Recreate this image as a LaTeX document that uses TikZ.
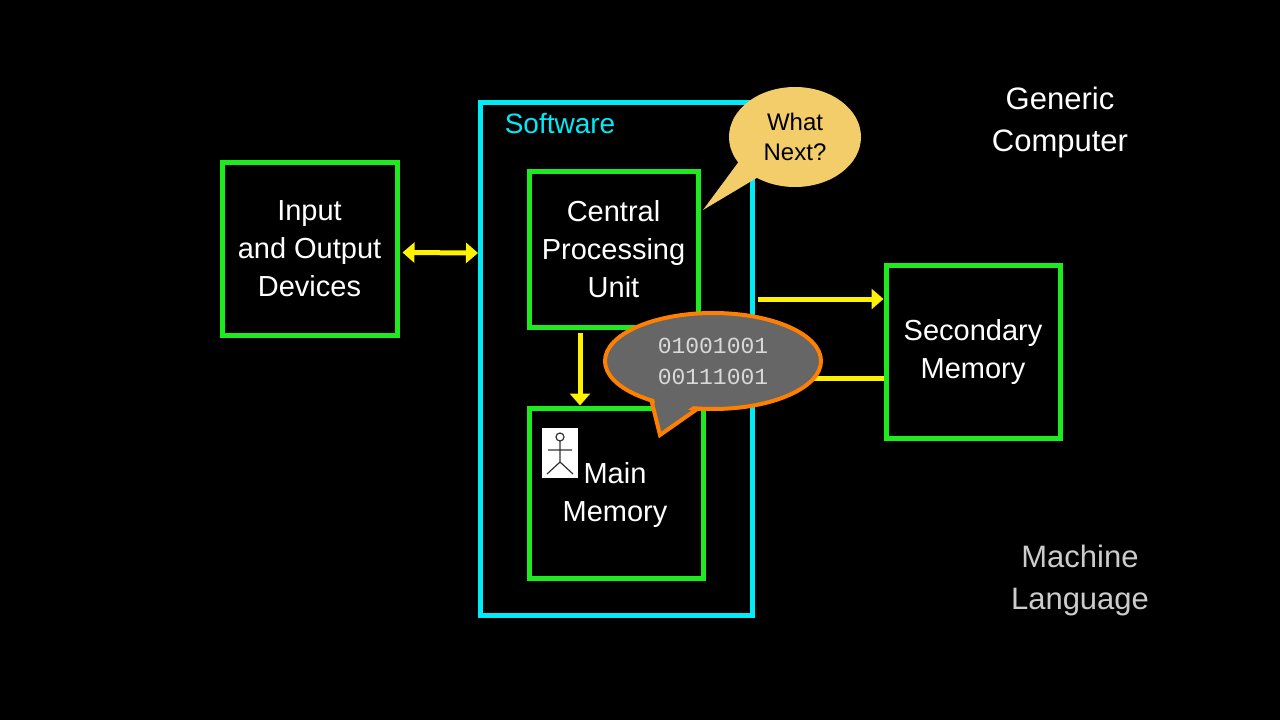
\documentclass[tikz,border=0pt]{standalone}
\usepackage{fontspec}
\setmainfont{Liberation Sans}
\newfontfamily\binfont{Liberation Mono}
\usetikzlibrary{arrows.meta,shapes.geometric}
\definecolor{gr}{RGB}{30,235,30}
\definecolor{cy}{RGB}{0,235,245}
\definecolor{tan}{RGB}{242,205,105}
\tikzset{ytip/.tip={Triangle[length=12pt,width=20pt]}}
\begin{document}
\begin{tikzpicture}[x=1pt,y=-1pt,
  box/.style={draw=gr,line width=5pt,minimum width=#1,inner sep=0pt,align=center,text=white,font=\fontsize{29}{38}\selectfont},
  yarr/.style={draw=yellow,line width=5pt,-ytip},
  lbl/.style={font=\fontsize{31}{42}\selectfont,align=center}]
\fill[black] (0,0) rectangle (1280,720);
\useasboundingbox (0,0) rectangle (1280,720);
% software
\draw[cy,line width=5pt] (480,102) rectangle (752,615);
\node[text=cy,font=\fontsize{28}{34}\selectfont] (sw) at (560,124) {Software};
% boxes
\node[box=175pt,minimum height=173pt] (io) at (309.5,248.5) {Input\\and Output\\Devices};
\node[box=169pt,minimum height=156pt] (cpu) at (613.5,249) {Central\\Processing\\Unit};
\node[box=174pt,minimum height=170pt] (mm) at (616,493) {};
\node[text=white,font=\fontsize{29}{38}\selectfont,align=center] (mmt) at (615,495) {Main\\Memory};
\node[box=174pt,minimum height=173pt] (sm) at (973,351.5) {Secondary\\Memory};
% stick figure
\fill[white] (542,428) rectangle (578,478);
\draw[black!80,line width=1.2pt] (560,437) circle (4) (560,441)--(560,462) (548,450)--(572,450) (560,462)--(547,474) (560,462)--(573,474);
% arrows
\coordinate (swl) at (478,253);
\draw[draw=yellow,line width=5pt,ytip-ytip] (io.east) ++(3,4) -- (swl);
\draw[yarr] (cpu.south -| 580,0) ++(0,3) -- (mm.north -| 580,0);
\coordinate (ca) at (758,299);
\draw[yarr] (ca) -- (sm.west |- ca);
\coordinate (cb) at (800,378);
\draw[yellow,line width=5pt] (cb) -- (sm.west |- cb);
% what next bubble
\fill[tan] (703,210) -- (740,160) -- (770,170) -- cycle;
\node[ellipse,fill=tan,minimum width=132pt,minimum height=100pt,align=center,font=\fontsize{24}{30}\selectfont,text=black] (wn) at (795,137) {What\\Next?};
% binary bubble
\draw[orange,line width=4pt,fill=black!60,line join=miter] (650,395) -- (660,435) -- (710,400);
\node[ellipse,draw=orange,line width=4pt,fill=black!60,minimum width=216pt,minimum height=96pt,align=center,text=black!15,font=\binfont\fontsize{23}{31}\selectfont] (bin) at (713,361) {01001001\\00111001};
\fill[black!60] (653,394) -- (661,428) -- (705,398) -- cycle;
% labels
\node[lbl,text=white] (gc) at (1060,122) {Generic\\Computer};
\node[lbl,text=black!20] (ml) at (1080,580) {Machine\\Language};
\end{tikzpicture}
\end{document}
